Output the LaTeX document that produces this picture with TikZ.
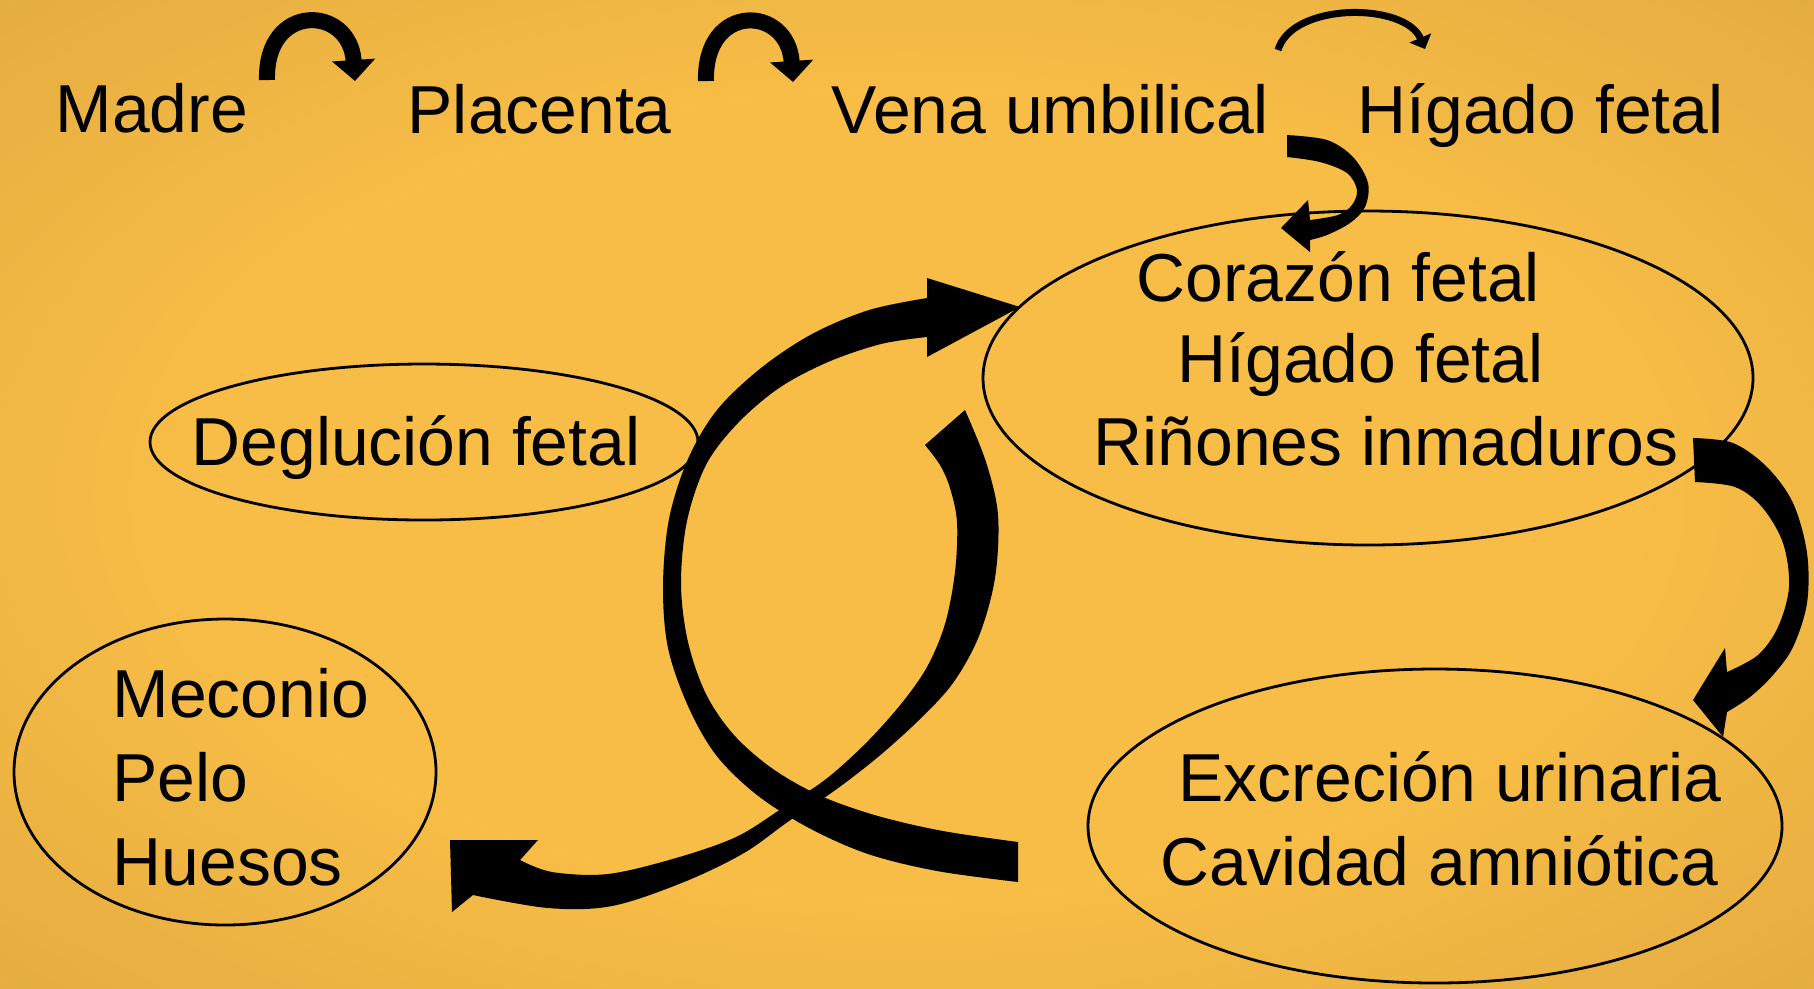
\documentclass[tikz,border=0pt]{standalone}
\usepackage{fontspec}
\setmainfont{Liberation Sans}
\usetikzlibrary{arrows.meta,shapes.geometric}
\definecolor{bgin}{RGB}{248,189,70}
\definecolor{bgout}{RGB}{210,158,60}
\pgfdeclareradialshading{bgshade}{\pgfpoint{0bp}{0bp}}{color(0bp)=(bgin); color(20bp)=(bgin); color(50bp)=(bgout)}
\tikzset{
  lbl/.style={anchor=base west, inner sep=0pt, font=\fontsize{19.3}{23}\selectfont},
  ell/.style={ellipse, draw, line width=0.28mm, inner sep=0pt},
  bigarc/.style={line width=1.6mm, -{Triangle[length=2.1mm,width=4.2mm]}},
  thinarc/.style={line width=0.7mm, -{Triangle[length=1.2mm,width=2.3mm]}},
  blk/.style={fill=black},
}
\begin{document}
\begin{tikzpicture}[x=0.1mm,y=-0.1mm]
\shade[shading=bgshade] (0,0) rectangle (1814,988);
\useasboundingbox (0,0) rectangle (1814,988);

% ellipses
\node[ell, minimum width=77mm, minimum height=33.4mm] (corazon) at (1368,378) {};
\node[ell, minimum width=54.8mm, minimum height=15.6mm] (deglu) at (424,442) {};
\node[ell, minimum width=42.2mm, minimum height=30.6mm] (meconio) at (225,772) {};
\node[ell, minimum width=69.4mm, minimum height=31.4mm] (excre) at (1435,826) {};

% texts
\node[lbl] (madre) at (55,132) {Madre};
\node[lbl] (placenta) at (407,133) {Placenta};
\node[lbl] (vena) at (831,133) {Vena umbilical};
\node[lbl] (higtop) at (1357,133) {Hígado fetal};
\node[lbl] (cor1) at (1136,301) {Corazón fetal};
\node[lbl] (cor2) at (1177,382) {Hígado fetal};
\node[lbl] (cor3) at (1093,465) {Riñones inmaduros};
\node[lbl] (deg) at (191,465) {Deglución fetal};
\node[lbl] (m1) at (112,717) {Meconio};
\node[lbl] (m2) at (112,801) {Pelo};
\node[lbl] (m3) at (112,885) {Huesos};
\node[lbl] (e1) at (1178,801) {Excreción urinaria};
\node[lbl] (e2) at (1160,885) {Cavidad amniótica};

% small top arrows
\coordinate (a1s) at (267,80);  \coordinate (a1e) at (355,81);
\coordinate (a2s) at (706,81);  \coordinate (a2e) at (793,82);
\coordinate (a3s) at (1278,50); \coordinate (a3e) at (1425,49);
\draw[bigarc] (a1s) .. controls (265,2) and (350,5) .. (a1e);
\draw[bigarc] (a2s) .. controls (704,2) and (788,5) .. (a2e);
\draw[thinarc] (a3s) .. controls (1292,2) and (1405,2) .. (a3e);

% vena umbilical -> corazon
\fill[blk] plot[smooth, tension=0.55] coordinates {(1287,135)(1327,140)(1353,157)(1368,183)(1365,207)(1350,223)(1327,235)(1310,240)}
  -- (1310,252) -- (1281,228) -- (1308,200) -- (1310,220)
  -- plot[smooth, tension=0.55] coordinates {(1310,220)(1338,215)(1352,205)(1357,190)(1347,173)(1320,162)(1287,157)} -- cycle;

% rinones -> excrecion
\fill[blk] plot[smooth, tension=0.55] coordinates {(1693,438)(1733,443)(1767,467)(1793,503)(1807,553)(1807,603)(1793,647)(1773,675)(1750,697)(1727,712)}
  -- (1723,737) -- (1693,700) -- (1725,648) -- (1727,672)
  -- plot[smooth, tension=0.55] coordinates {(1727,672)(1758,655)(1778,627)(1789,587)(1783,543)(1762,507)(1735,487)(1695,482)} -- cycle;

% cavidad amniotica -> corazon (arrow A)
\fill[blk] plot[smooth, tension=0.55] coordinates {(1018,882)(937,871)(868,854)(809,828)(757,795)(716,755)(688,706)(668,648)(663,586)(669,519)(688,459)(717,410)(761,368)(812,334)(869,310)(927,298)}
  -- (927,278) -- (1020,307) -- (927,357) -- (927,337)
  -- plot[smooth, tension=0.55] coordinates {(927,337)(881,344)(828,362)(779,388)(737,424)(706,465)(687,521)(681,584)(688,642)(706,694)(734,735)(773,769)(821,796)(878,816)(943,831)(1018,842)} -- cycle;

% corazon -> huesos (arrow B)
\fill[blk] plot[smooth, tension=0.55] coordinates {(965,410)(986,462)(998,515)(995,578)(979,636)(953,683)(919,720)(878,757)(834,791)(789,821)(744,853)(684,882)(612,906)(548,908)(473,895)}
  -- (452,912) -- (450,840) -- (538,840) -- (520,860)
  -- plot[smooth, tension=0.55] coordinates {(520,860)(552,872)(608,874)(676,858)(736,837)(781,809)(826,779)(866,743)(901,704)(927,667)(945,624)(955,572)(957,522)(950,488)(940,465)(925,445)} -- cycle;
\end{tikzpicture}
\end{document}
